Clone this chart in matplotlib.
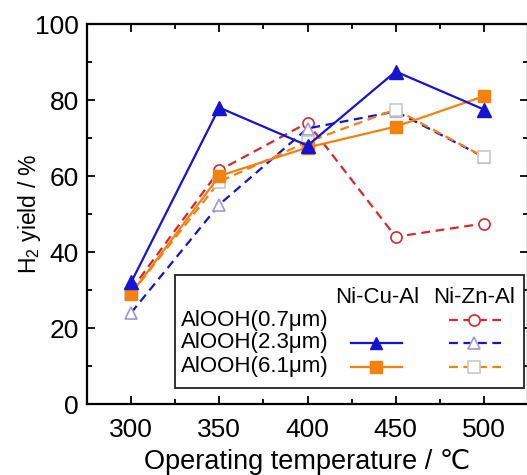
import matplotlib
matplotlib.use('Agg')
from matplotlib import pyplot as plt
from matplotlib.patches import Rectangle

plt.rcParams['font.family'] = ['Liberation Sans', 'DejaVu Sans']
plt.rcParams['mathtext.fontset'] = 'custom'
plt.rcParams['mathtext.rm'] = 'Liberation Sans'

# Operating temperature (deg C)
temps = [300, 350, 400, 450, 500]

# H2 yield (%) - Ni-Cu-Al catalysts
cu_2_3 = [32, 78, 68, 87.5, 77.5]
cu_6_1 = [29, 60, 67.5, 73, 81]

# H2 yield (%) - Ni-Zn-Al catalysts
zn_0_7 = [30, 61.5, 74, 44, 47.5]
zn_2_3 = [24, 52.5, 72.5, 77, 65]
zn_6_1 = [29, 58.5, 69, 77.5, 65]

row_labels = ['AlOOH(0.7μm)', 'AlOOH(2.3μm)', 'AlOOH(6.1μm)']
col_labels = ['Ni-Cu-Al', 'Ni-Zn-Al']

blue = '#1414d2'
orange = '#f5820f'
red = '#d7282d'
dash = (0, (4, 2.5))

fig = plt.figure(figsize=(5.27, 4.75), dpi=100)
ax = fig.add_axes([87 / 527, 1 - 404 / 475, 441 / 527, 380 / 475])

ax.plot(temps, zn_0_7, color=red, ls=dash, lw=1.6, marker='o', ms=8,
        mfc='white', mec=red, mew=1.2)
ax.plot(temps, zn_2_3, color=blue, ls=dash, lw=1.6, marker='^', ms=8,
        mfc='white', mec='#9a9ad8', mew=1.2)
ax.plot(temps, zn_6_1, color=orange, ls=dash, lw=1.6, marker='s', ms=8,
        mfc='white', mec='#c8c8c8', mew=1.2)
ax.plot(temps, cu_6_1, color=orange, lw=1.6, marker='s', ms=9)
ax.plot(temps, cu_2_3, color=blue, lw=1.6, marker='^', ms=9.5)

ax.set_xlim(275, 525)
ax.set_ylim(0, 100)
ax.set_xticks(temps)
ax.set_xticks([275, 325, 375, 425, 475, 525], minor=True)
ax.set_yticks([0, 20, 40, 60, 80, 100])
ax.set_yticks([10, 30, 50, 70, 90], minor=True)
ax.tick_params(which='both', direction='in', top=True, right=True, width=1.3)
ax.tick_params(which='major', length=6, labelsize=19)
ax.tick_params(axis='x', which='major', pad=10)
ax.tick_params(axis='y', which='major', pad=6)
ax.tick_params(which='minor', length=3.5)
for s in ax.spines.values():
    s.set_linewidth(1.6)

ax.set_xlabel('Operating temperature / ℃', fontsize=19.5, labelpad=5)
ax.set_ylabel(r'H$_2$ yield / %', fontsize=16.5, labelpad=-6)

# legend drawn as a table box
ax.add_patch(Rectangle((0.2, 0.042), 0.79, 0.297, transform=ax.transAxes,
                       facecolor='white', edgecolor='#222222', lw=1.3, zorder=5))
ax.text(0.659, 0.279, col_labels[0], transform=ax.transAxes, ha='center',
        va='center', fontsize=16, zorder=6)
ax.text(0.877, 0.279, col_labels[1], transform=ax.transAxes, ha='center',
        va='center', fontsize=16, zorder=6)
rows_y = [0.221, 0.161, 0.098]
for lab, yy in zip(row_labels, rows_y):
    ax.text(0.213, yy, lab, transform=ax.transAxes, ha='left', va='center',
            fontsize=16, zorder=6)

samples = [
    (None, (red, 'o', red, '#ffffff')),
    ((blue, '^', blue, blue), (blue, '^', '#9a9ad8', '#ffffff')),
    ((orange, 's', orange, orange), (orange, 's', '#c8c8c8', '#ffffff')),
]
for (cu, zn), yy in zip(samples, rows_y):
    if cu is not None:
        ax.plot([0.598, 0.715], [yy, yy], transform=ax.transAxes, color=cu[0],
                lw=1.6, zorder=7, clip_on=False)
        ax.plot([0.656], [yy], transform=ax.transAxes, marker=cu[1], ms=9,
                color=cu[0], zorder=8, clip_on=False)
    ax.plot([0.82, 0.939], [yy, yy], transform=ax.transAxes, color=zn[0],
            ls=dash, lw=1.6, zorder=7, clip_on=False)
    ax.plot([0.878], [yy], transform=ax.transAxes, marker=zn[1], ms=8,
            mfc=zn[3], mec=zn[2], mew=1.2, zorder=8, clip_on=False)

fig.savefig('out.png', dpi=100)
